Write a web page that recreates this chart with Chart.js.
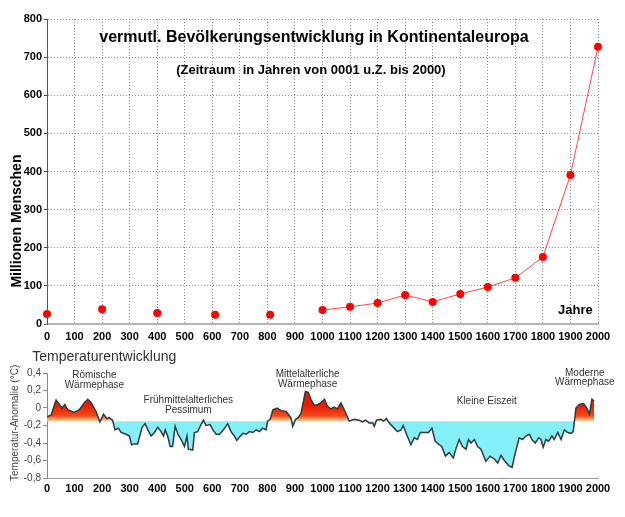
<!DOCTYPE html>
<html lang="de">
<head>
<meta charset="UTF-8">
<title>vermutl. Bevölkerungsentwicklung in Kontinentaleuropa</title>
<script src="https://cdn.jsdelivr.net/npm/chart.js"></script>
<style>
  body { margin: 0; background: #fff; }
  #wrap { position: relative; width: 625px; height: 517px; }
  #popBox { position: absolute; left: 0; top: 0; width: 625px; height: 345px; }
  #tempBox { position: absolute; left: 0; top: 345px; width: 625px; height: 172px; }
</style>
</head>
<body>
<div id="wrap">
  <div id="popBox"><canvas id="popChart"></canvas></div>
  <div id="tempBox"><canvas id="tempChart"></canvas></div>
</div>
<script>
// population, millions
const earlyYears = [0, 200, 400, 610, 810];
const earlyPop = [26, 39, 29, 24, 24];
const laterYears = [1000, 1100, 1200, 1300, 1400, 1500, 1600, 1700, 1800, 1900, 2000];
const laterPop = [37, 45, 55, 76, 58, 79, 97, 121, 176, 391, 727];

// temperature anomaly curve (°C)
const tempYears = [0, 15, 33, 45, 54, 65, 75, 99, 117, 136, 148, 160, 178, 192, 205, 217, 226, 238,
  247, 259, 269, 287, 299, 307, 317, 329, 335, 345, 356, 366, 378, 390, 402, 414, 423, 429, 438,
  447, 456, 465, 475, 487, 499, 508, 513, 529, 535, 547, 559, 568, 577, 592, 602, 614, 626, 640,
  656, 668, 680, 689, 699, 711, 723, 735, 747, 759, 771, 783, 795, 801, 810, 820, 835, 850, 868,
  878, 886, 892, 902, 912, 922, 931, 938, 948, 959, 971, 983, 995, 1007, 1018, 1030, 1042, 1054,
  1067, 1079, 1097, 1115, 1133, 1145, 1157, 1169, 1182, 1188, 1196, 1212, 1222, 1232, 1242, 1260,
  1272, 1285, 1293, 1305, 1321, 1333, 1345, 1355, 1369, 1385, 1397, 1409, 1424, 1433, 1446, 1460,
  1475, 1484, 1496, 1508, 1521, 1530, 1539, 1551, 1563, 1575, 1593, 1608, 1623, 1636, 1648, 1660,
  1676, 1688, 1700, 1714, 1726, 1738, 1751, 1760, 1772, 1785, 1793, 1801, 1811, 1821, 1833, 1841,
  1854, 1866, 1878, 1890, 1902, 1910, 1920, 1932, 1947, 1959, 1969, 1978, 1986];
const tempValues = [-0.10, -0.08, 0.09, 0.04, 0.00, 0.04, -0.02, -0.05, -0.02, 0.06, 0.10, 0.06, -0.04,
  -0.16, -0.07, -0.12, -0.11, -0.14, -0.25, -0.23, -0.28, -0.30, -0.32, -0.42, -0.41, -0.41, -0.34,
  -0.22, -0.18, -0.25, -0.32, -0.28, -0.22, -0.27, -0.32, -0.25, -0.32, -0.44, -0.44, -0.21, -0.30,
  -0.36, -0.44, -0.32, -0.47, -0.48, -0.28, -0.27, -0.19, -0.14, -0.20, -0.19, -0.25, -0.30, -0.30,
  -0.25, -0.18, -0.27, -0.32, -0.37, -0.33, -0.29, -0.30, -0.27, -0.28, -0.25, -0.27, -0.23, -0.25,
  -0.15, -0.13, -0.02, 0.00, -0.03, -0.04, -0.08, -0.12, -0.21, -0.13, -0.11, -0.06, 0.08, 0.19,
  0.18, 0.09, 0.03, 0.04, 0.06, 0.10, 0.02, -0.01, 0.01, -0.01, 0.06, -0.02, -0.15, -0.13, -0.14,
  -0.16, -0.14, -0.17, -0.17, -0.21, -0.14, -0.13, -0.15, -0.12, -0.17, -0.23, -0.27, -0.25, -0.20,
  -0.30, -0.42, -0.34, -0.36, -0.28, -0.28, -0.28, -0.23, -0.38, -0.42, -0.44, -0.55, -0.51, -0.57,
  -0.47, -0.36, -0.44, -0.47, -0.36, -0.40, -0.36, -0.44, -0.47, -0.61, -0.55, -0.58, -0.63, -0.54,
  -0.60, -0.66, -0.68, -0.51, -0.34, -0.36, -0.32, -0.30, -0.36, -0.40, -0.34, -0.36, -0.45, -0.36,
  -0.38, -0.32, -0.36, -0.28, -0.36, -0.25, -0.28, -0.29, -0.27, 0.00, 0.04, 0.05, 0.00, -0.07,
  0.10, 0.08];
const tempBase = -0.15;

const sans = '"Liberation Sans", Arial, sans-serif';
const tickFont = { family: sans, size: 11, weight: 'bold' };

// draws free texts at data positions (px = fixed pixel x)
function labelPlugin(id, items) {
  return {
    id: id,
    afterDraw(chart) {
      const { ctx, scales } = chart;
      items.forEach(t => {
        const px = t.px !== undefined ? t.px : scales.x.getPixelForValue(t.x);
        const py = scales.y.getPixelForValue(t.y);
        ctx.save();
        ctx.font = t.font;
        ctx.fillStyle = t.color || '#000';
        ctx.textAlign = t.align || 'center';
        ctx.textBaseline = 'middle';
        ctx.translate(px, py);
        if (t.rotate) ctx.rotate(t.rotate);
        ctx.fillText(t.text, 0, 0);
        ctx.restore();
      });
    }
  };
}

const popTexts = [
  { x: 969, y: 751, text: 'vermutl. Bevölkerungsentwicklung in Kontinentaleuropa', font: 'bold 16px ' + sans },
  { x: 958, y: 666, text: '(Zeitraum  in Jahren von 0001 u.Z. bis 2000)', font: 'bold 13px ' + sans },
  { x: 1918, y: 35, text: 'Jahre', font: 'bold 13px ' + sans },
  { px: 17, y: 270, text: 'Millionen Menschen', font: 'bold 14px ' + sans, rotate: -Math.PI / 2 }
];

const tempTexts = [
  { x: 208, y: 0.58, text: 'Temperaturentwicklung', font: '14px ' + sans, color: '#333' },
  { px: 15, y: -0.17, text: 'Temperatur-Anomalie (°C)', font: '10px ' + sans, color: '#444', rotate: -Math.PI / 2 },
  { x: 172, y: 0.38, text: 'Römische', font: '10px ' + sans, color: '#333' },
  { x: 172, y: 0.265, text: 'Wärmephase', font: '10px ' + sans, color: '#333' },
  { x: 513, y: 0.083, text: 'Frühmittelalterliches', font: '10px ' + sans, color: '#333' },
  { x: 513, y: -0.025, text: 'Pessimum', font: '10px ' + sans, color: '#333' },
  { x: 946, y: 0.39, text: 'Mittelalterliche', font: '10px ' + sans, color: '#333' },
  { x: 946, y: 0.275, text: 'Wärmephase', font: '10px ' + sans, color: '#333' },
  { x: 1596, y: 0.072, text: 'Kleine Eiszeit', font: '10px ' + sans, color: '#333' },
  { x: 1952, y: 0.40, text: 'Moderne', font: '10px ' + sans, color: '#333' },
  { x: 1952, y: 0.29, text: 'Wärmephase', font: '10px ' + sans, color: '#333' }
];

const plainNum = v => String(v);

new Chart(document.getElementById('popChart'), {
  type: 'line',
  data: {
    datasets: [
      {
        data: earlyYears.map((yr, i) => ({ x: yr, y: earlyPop[i] })),
        showLine: false,
        pointRadius: 4, pointBackgroundColor: '#ff0000', pointBorderWidth: 0,
        clip: false
      },
      {
        data: laterYears.map((yr, i) => ({ x: yr, y: laterPop[i] })),
        borderColor: 'rgba(255, 40, 40, 0.85)', borderWidth: 1,
        pointRadius: 4, pointBackgroundColor: '#ff0000', pointBorderWidth: 0,
        tension: 0, clip: false
      }
    ]
  },
  options: {
    responsive: true, maintainAspectRatio: false, animation: false,
    layout: { padding: { top: 19, right: 27, left: 0, bottom: 0 } },
    plugins: { legend: { display: false }, tooltip: { enabled: false } },
    scales: {
      x: {
        type: 'linear', min: 0, max: 2000,
        ticks: { stepSize: 100, autoSkip: false, maxRotation: 0, padding: 6, color: '#000', font: tickFont, callback: plainNum },
        grid: { color: '#8a8a8a', drawTicks: false },
        border: { color: '#b4b4b4', width: 2, dash: [1, 2] },
        afterFit(scale) { scale.height = 21; }
      },
      y: {
        min: 0, max: 800,
        ticks: { stepSize: 100, padding: 2, color: '#000', font: tickFont, callback: plainNum },
        grid: { color: '#8a8a8a', tickLength: 3, tickColor: '#444' },
        border: { color: '#555', width: 1, dash: [1, 2] },
        afterFit(scale) { scale.width = 47; }
      }
    }
  },
  plugins: [labelPlugin('popTexts', popTexts)]
});

function tempFill(context) {
  const { ctx, chartArea } = context.chart;
  if (!chartArea) return null;
  const g = ctx.createLinearGradient(0, chartArea.top, 0, chartArea.bottom);
  const f = v => (0.4 - v) / 1.2;
  g.addColorStop(0, '#e81400');
  g.addColorStop(f(0.02), '#ee1c00');
  g.addColorStop(f(-0.09), '#f24a18');
  g.addColorStop(f(tempBase) - 0.002, '#fbd09a');
  g.addColorStop(f(tempBase) + 0.002, '#84eff7');
  g.addColorStop(1, '#84eff7');
  return g;
}

new Chart(document.getElementById('tempChart'), {
  type: 'line',
  data: {
    datasets: [{
      data: tempYears.map((yr, i) => ({ x: yr, y: tempValues[i] })),
      borderColor: '#2d3a40', borderWidth: 1.5,
      pointRadius: 0, tension: 0,
      backgroundColor: tempFill,
      fill: { target: { value: tempBase } }
    }]
  },
  options: {
    responsive: true, maintainAspectRatio: false, animation: false,
    layout: { padding: { top: 28, right: 27, left: 0, bottom: 0 } },
    plugins: { legend: { display: false }, tooltip: { enabled: false } },
    scales: {
      x: {
        type: 'linear', min: 0, max: 2000,
        ticks: { stepSize: 100, autoSkip: false, maxRotation: 0, padding: 4, color: '#000', font: tickFont, callback: plainNum },
        grid: { display: false, drawTicks: false },
        border: { color: '#999', width: 1 },
        afterFit(scale) { scale.height = 39; }
      },
      y: {
        min: -0.8, max: 0.4,
        ticks: {
          stepSize: 0.2, padding: 2, color: '#444',
          font: { family: sans, size: 10 },
          callback: v => Math.abs(v) < 1e-9 ? '0' : v.toFixed(1).replace('.', ',')
        },
        grid: { drawOnChartArea: false, tickLength: 4, tickColor: '#888' },
        border: { color: '#888', width: 1 },
        afterFit(scale) { scale.width = 47; }
      }
    }
  },
  plugins: [labelPlugin('tempTexts', tempTexts)]
});
</script>
</body>
</html>
